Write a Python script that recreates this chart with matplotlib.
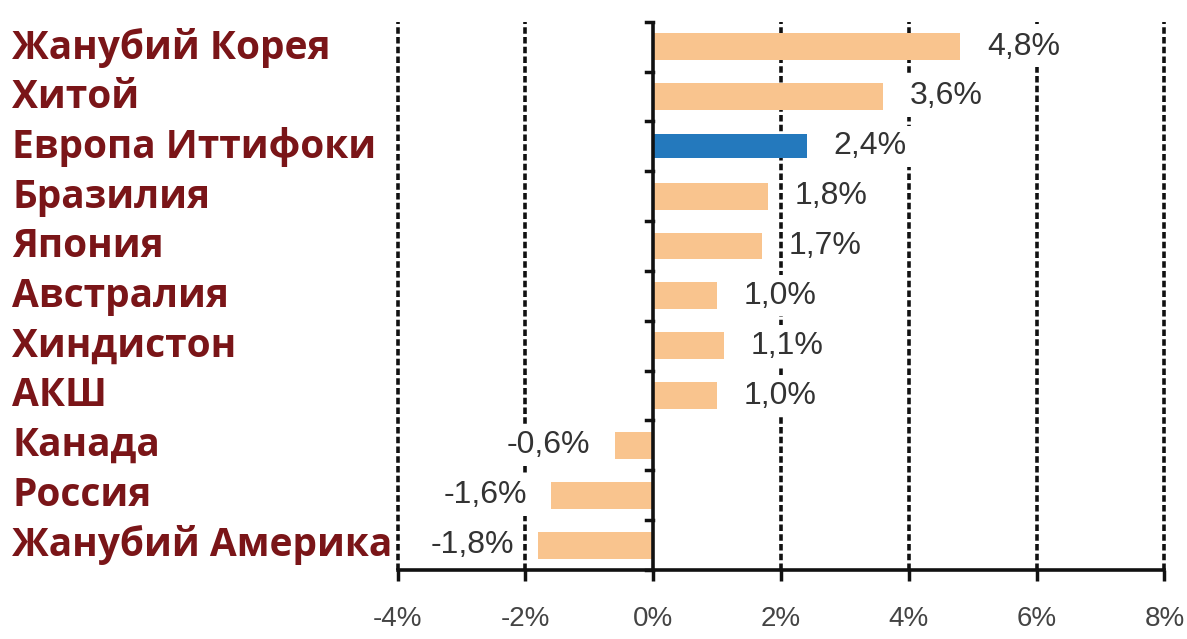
import matplotlib.pyplot as plt
import numpy as np

# Data
countries = ['Жанубий Корея', 'Хитой', 'Европа Иттифоки', 'Бразилия', 'Япония',
             'Австралия', 'Хиндистон', 'АКШ', 'Канада', 'Россия', 'Жанубий Америка']
values = [4.8, 3.6, 2.4, 1.8, 1.7, 1.0, 1.1, 1.0, -0.6, -1.6, -1.8]
value_labels = ['4,8%', '3,6%', '2,4%', '1,8%', '1,7%', '1,0%', '1,1%', '1,0%',
                '-0,6%', '-1,6%', '-1,8%']
xticks = [-4, -2, 0, 2, 4, 6, 8]
xtick_labels = ['-4%', '-2%', '0%', '2%', '4%', '6%', '8%']
highlight = 'Европа Иттифоки'

orange = '#f9c48e'
blue = '#2479bd'
label_red = '#7a1518'

fig = plt.figure(figsize=(11.87, 6.39), dpi=100)
ax = fig.add_axes([0.335, 0.108, 0.646, 0.858])

y = np.arange(len(countries))
colors = [blue if c == highlight else orange for c in countries]
heights = [0.48 if c == highlight else 0.54 for c in countries]
ax.barh(y, values, height=heights, color=colors, zorder=3)

# dashed gridlines
for xt in xticks:
    if xt != 0:
        ax.axvline(xt, color='#111111', linestyle=(0, (1.8, 0.9)), linewidth=2.6,
                   zorder=1, clip_on=False)
ax.axvline(0, color='#111111', linewidth=2.6, zorder=4)

# value labels with white background
for yi, v, lab in zip(y, values, value_labels):
    if v >= 0:
        ax.text(v + 0.42, yi, lab, ha='left', va='center', fontsize=23,
                family='Liberation Sans', color='#333333', zorder=5,
                bbox=dict(facecolor='white', edgecolor='none', pad=4))
    else:
        ax.text(v - 0.38, yi, lab, ha='right', va='center', fontsize=23,
                family='Liberation Sans', color='#333333', zorder=5,
                bbox=dict(facecolor='white', edgecolor='none', pad=4))

# country labels on the left
for yi, c in zip(y, countries):
    fig.text(12 / 1187, 1 - (48 + yi * 49.7) / 639, c, ha='left', va='center',
             fontsize=28, fontweight='bold', family='Open Sans', color=label_red)

ax.set_xlim(-4, 8)
ax.set_ylim(len(countries) - 0.5, -0.5)
ax.set_xticks(xticks)
ax.set_xticklabels(xtick_labels, fontsize=20, family='Liberation Sans', color='#444444')
ax.tick_params(axis='x', length=8, width=2.5, pad=18, color='#111111')

# y ticks on the zero line at bar boundaries
ax.set_yticks([])
for b in np.arange(-0.5, len(countries), 1.0):
    ax.plot([-0.12, 0], [b, b], color='#111111', linewidth=2.5, zorder=4, clip_on=False)

for s in ['top', 'right', 'left']:
    ax.spines[s].set_visible(False)
ax.spines['bottom'].set_linewidth(2.6)
ax.spines['bottom'].set_color('#111111')
ax.spines['bottom'].set_zorder(4)

fig.savefig('out.png', dpi=100, facecolor='white')
